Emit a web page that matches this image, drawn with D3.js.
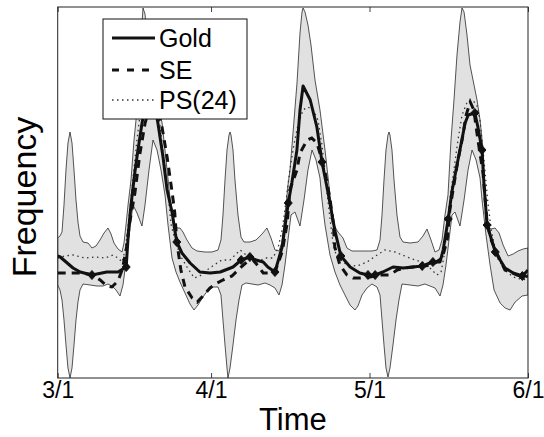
<!DOCTYPE html>
<html><head><meta charset="utf-8">
<script src="https://cdn.jsdelivr.net/npm/d3@7"></script>
<style>
html,body{margin:0;padding:0;background:#fff;}
svg{display:block;}
text{font-family:"Liberation Sans",Arial,Helvetica,sans-serif;fill:#000;}
</style></head><body>
<svg id="chart" width="544" height="437"></svg>
<script>
// ---- data (x = days since 3/1, y = frequency, arbitrary units) ----
const tickDays = [0, 30, 61, 92];
const tickLabels = ["3/1", "4/1", "5/1", "6/1"];
const legendLabels = ["Gold", "SE", "PS(24)"];

const goldData = [
  [0,122],[0.5,121],[3.0,110],[4.4,106],[6.7,103],[9.6,106],[11.8,106],[13.4,111],
  [13.8,143],[14.2,166],[14.5,180],[15.1,206],[15.7,228],[16.5,255],[17.3,278],[18.1,288],
  [18.8,278],[19.6,255],[20.6,221],[21.4,188],[22.4,165],[22.9,148],[23.3,136],[24.3,125],
  [25.9,115],[27.8,106],[29.8,105],[31.8,106],[34.3,111],[35.9,118],[37.0,120],[37.6,121],
  [38.8,118],[40.2,116],[41.1,111],[42.5,106],[43.9,131],[45.1,175],[45.8,195],[46.8,228],
  [47.4,268],[48.0,292],[49.4,278],[50.7,251],[51.7,216],[52.9,185],[54.2,148],[55.4,122],
  [57.2,111],[59.1,105],[60.7,103],[62.1,103],[63.6,106],[65.6,111],[67.6,110],[69.5,111],
  [71.3,112],[73.4,116],[74.8,116],[75.4,128],[76.4,159],[77.1,186],[78.3,218],[79.7,255],
  [80.3,263],[81.6,265],[82.2,251],[83.0,228],[83.4,193],[84.0,153],[85.6,126],[87.5,110],
  [89.1,105],[90.9,102],[92,108]
];
const goldMarkerDays = [6.7,13.4,23.3,35.9,37.6,42.5,45.1,51.7,55.4,60.7,62.1,71.3,73.4,76.4,81.6,83.0,84.0,85.6,90.9];

const seData = [
  [0,105],[1.4,105],[4.4,105],[6.9,103],[8.3,98],[9.6,92],[10.6,91],[11.8,97],[12.6,108],
  [13.4,128],[14.1,156],[15.1,185],[16.1,225],[17.1,255],[18.1,273],[18.8,278],[19.6,268],
  [20.4,251],[21.4,221],[22.4,185],[22.9,165],[23.3,136],[24.1,108],[24.9,91],[26.3,80],
  [27.3,76],[28.4,82],[29.8,90],[31.2,95],[32.3,98],[34.1,102],[35.7,110],[37.0,116],
  [38.2,118],[39.2,112],[40.2,105],[41.5,105],[42.5,106],[43.9,126],[44.9,155],[45.4,188],
  [46.8,208],[47.4,225],[48.8,238],[49.7,240],[50.7,235],[51.3,225],[52.3,206],[53.3,178],
  [53.9,155],[54.2,131],[55.2,113],[56.6,103],[57.8,100],[59.1,100],[61.1,101],[63.1,103],
  [65.0,103],[66.4,108],[67.9,110],[69.5,111],[71.5,112],[73.2,113],[75.2,120],[76.2,138],
  [76.7,168],[77.5,193],[78.3,218],[79.1,238],[79.9,263],[80.7,276],[81.4,268],[82.2,238],
  [83.2,205],[84.0,155],[84.8,138],[85.6,128],[87.5,108],[89.9,103],[91.0,101],[92,102]
];

const psData = [
  [0,120],[1.4,122],[3.0,123],[5.3,120],[7.3,121],[9.3,120],[10.8,123],[11.8,120],[12.6,116],
  [13.2,128],[13.8,153],[14.3,178],[14.9,208],[15.5,238],[16.1,263],[16.9,283],[17.7,293],
  [18.5,288],[19.2,273],[20.0,253],[20.8,218],[21.6,183],[22.2,153],[22.8,141],[23.9,123],
  [25.3,111],[26.7,100],[27.8,102],[29.2,108],[30.6,113],[32.1,118],[33.7,118],[35.7,128],
  [37.6,120],[39.0,116],[40.6,120],[42.1,120],[43.1,130],[43.9,148],[44.7,178],[45.4,208],
  [46.2,233],[47.0,253],[48.0,268],[48.9,271],[50.0,268],[50.9,258],[51.7,233],[52.5,193],
  [53.3,158],[53.9,133],[54.6,121],[56.6,113],[58.6,112],[60.5,116],[62.5,123],[64.0,128],
  [66.0,126],[67.9,122],[69.9,118],[71.9,115],[73.2,108],[74.2,103],[75.0,106],[75.6,123],
  [76.2,153],[76.7,178],[77.5,208],[78.3,238],[79.1,263],[80.1,276],[81.1,278],[82.0,273],
  [82.6,258],[83.4,218],[84.1,178],[84.8,148],[85.9,121],[87.5,108],[89.1,101],[90.5,99],[92,98]
];

const bandUpper = [
  [0,140],[0.45,142],[0.84,146],[1.23,173],[1.62,208],[2.01,235],[2.41,246],[2.80,235],[3.19,208],
  [3.58,178],[3.97,156],[4.36,142],[4.95,136],[5.93,135],[6.71,130],[7.49,132],[8.27,138],[9.06,145],
  [9.84,150],[10.43,144],[11.01,135],[11.80,129],[12.58,126],[12.97,135],[13.36,153],[13.76,173],
  [14.34,198],[14.93,238],[15.51,268],[15.90,298],[16.29,338],[16.69,370],[17.08,364],[17.66,333],
  [18.45,298],[19.43,273],[20.40,256],[21.19,218],[21.97,180],[22.75,156],[23.34,150],[23.92,150],
  [24.51,146],[25.29,138],[26.27,130],[27.25,127],[28.82,126],[30.18,126],[31.36,128],[31.94,138],
  [32.33,163],[32.73,198],[33.12,228],[33.51,243],[33.71,246],[33.90,243],[34.29,228],[34.68,198],
  [35.27,163],[35.86,141],[36.44,136],[37.62,136],[38.79,138],[39.97,144],[40.94,150],[41.73,140],
  [42.51,128],[43.29,127],[43.88,136],[44.46,163],[45.05,193],[45.44,208],[46.03,245],[46.81,295],
  [47.40,345],[47.79,366],[47.99,370],[48.38,366],[48.96,353],[49.55,333],[50.33,298],[51.31,268],
  [52.29,228],[53.27,183],[54.05,153],[54.83,146],[55.81,140],[56.59,130],[57.57,127],[59.53,127],
  [61.48,127],[62.46,128],[63.05,138],[63.44,163],[63.83,198],[64.22,228],[64.61,243],[64.81,246],
  [65.00,243],[65.39,228],[65.79,198],[66.37,163],[66.96,141],[67.55,136],[68.92,135],[70.48,136],
  [71.46,142],[72.24,149],[73.03,138],[73.81,126],[74.59,128],[75.18,138],[75.76,163],[76.35,183],
  [76.94,238],[77.52,278],[78.11,323],[78.70,356],[79.09,370],[79.49,366],[80.07,343],[80.66,313],
  [81.44,293],[82.03,278],[82.62,258],[83.21,228],[83.60,183],[83.99,153],[84.77,149],[85.56,150],
  [86.34,145],[87.13,133],[88.11,122],[89.09,124],[90.07,127],[91.05,129],[92,130]
];

const bandLower = [
  [0,93],[0.45,88],[0.84,78],[1.23,58],[1.62,33],[2.01,10],[2.41,0],[2.80,10],[3.19,33],[3.58,58],
  [3.97,76],[4.36,88],[4.95,94],[6.32,93],[7.69,92],[8.86,92],[9.84,94],[10.62,92],[11.40,88],
  [12.19,82],[12.77,93],[13.36,116],[13.95,143],[14.73,173],[15.51,165],[16.49,152],[17.08,173],
  [17.86,208],[18.64,238],[19.43,228],[20.21,208],[20.99,183],[21.58,153],[22.36,120],[23.14,106],
  [23.92,96],[24.90,85],[25.88,74],[26.66,68],[27.45,73],[28.42,81],[29.40,88],[30.38,91],[31.36,91],
  [31.94,83],[32.33,58],[32.73,33],[33.12,10],[33.31,0],[33.71,10],[34.29,33],[34.88,58],[35.47,78],
  [36.05,93],[36.84,95],[38.01,94],[39.18,93],[40.55,95],[41.53,93],[42.51,90],[43.29,83],[43.88,93],
  [44.46,113],[45.05,138],[45.64,163],[46.42,166],[47.40,152],[48.18,178],[48.96,208],[49.75,228],
  [50.53,218],[51.31,200],[51.70,178],[52.29,153],[53.27,123],[54.24,106],[55.22,93],[56.20,83],
  [57.18,73],[58.16,68],[58.74,72],[59.53,83],[60.51,90],[61.48,94],[62.46,91],[63.05,83],[63.44,58],
  [63.83,33],[64.22,10],[64.61,1],[65.00,10],[65.59,33],[66.18,58],[66.76,78],[67.35,94],[68.92,93],
  [70.48,92],[71.85,94],[72.83,92],[73.81,90],[74.79,82],[75.37,93],[75.96,113],[76.55,138],[77.13,163],
  [77.72,166],[78.70,152],[79.49,178],[80.27,208],[81.05,228],[81.84,218],[82.62,200],[83.01,178],
  [83.79,143],[84.58,113],[85.36,88],[86.54,75],[87.52,70],[88.50,68],[89.48,76],[90.85,82],[92,83]
];

// ---- drawing ----
const svg = d3.select("#chart");
const x = d3.scaleLinear().domain([0, 92]).range([57.7, 528]);
const y = d3.scaleLinear().domain([0, 371]).range([378, 7]);

svg.append("rect").attr("width", 544).attr("height", 437).attr("fill", "#fff");

svg.append("defs").append("clipPath").attr("id", "plotclip")
  .append("rect").attr("x", x(0)).attr("y", y(371)).attr("width", x(92) - x(0)).attr("height", y(0) - y(371));

const plot = svg.append("g").attr("clip-path", "url(#plotclip)");

const line = d3.line().x(d => x(d[0])).y(d => y(d[1]));

// band polygon: upper forward, lower reversed
const bandPts = bandUpper.concat(bandLower.slice().reverse());
plot.append("path")
  .attr("d", line(bandPts) + "Z")
  .attr("fill", "#e1e1e1")
  .attr("stroke", "#2a2a2a")
  .attr("stroke-width", 0.8)
  .attr("stroke-linejoin", "round");

plot.append("path").attr("d", line(psData))
  .attr("fill", "none").attr("stroke", "#333").attr("stroke-width", 1.3)
  .attr("stroke-dasharray", "1.5,3.5");

plot.append("path").attr("d", line(seData))
  .attr("fill", "none").attr("stroke", "#111").attr("stroke-width", 3)
  .attr("stroke-dasharray", "8,6");

plot.append("path").attr("d", line(goldData))
  .attr("fill", "none").attr("stroke", "#111").attr("stroke-width", 3)
  .attr("stroke-linejoin", "round");

const markerPts = goldMarkerDays.map(dd => goldData.find(p => Math.abs(p[0] - dd) < 1e-6)).filter(Boolean);
plot.selectAll("path.mk").data(markerPts).enter().append("path")
  .attr("class", "mk")
  .attr("d", "M0,-4.5L4,0L0,4.5L-4,0Z")
  .attr("transform", d => `translate(${x(d[0])},${y(d[1])})`)
  .attr("fill", "#111").attr("stroke", "#111").attr("stroke-width", 1);

// axes
const xAxis = d3.axisBottom(x).tickValues(tickDays)
  .tickFormat((d, i) => tickLabels[i]).tickSizeInner(-5).tickSizeOuter(0).tickPadding(4);
const gx = svg.append("g").attr("transform", `translate(0,${y(0)})`).call(xAxis);
gx.select(".domain").remove();
gx.selectAll("line").attr("stroke", "#444");
gx.selectAll("text").attr("font-size", 23).attr("font-family", '"Liberation Sans",Arial,sans-serif').attr("fill", "#000");

const xTop = d3.axisTop(x).tickValues(tickDays).tickFormat("").tickSizeInner(-5).tickSizeOuter(0);
const gt = svg.append("g").attr("transform", `translate(0,${y(371)})`).call(xTop);
gt.select(".domain").remove();
gt.selectAll("line").attr("stroke", "#444");

svg.append("rect")
  .attr("x", x(0)).attr("y", y(371)).attr("width", x(92) - x(0)).attr("height", y(0) - y(371))
  .attr("fill", "none").attr("stroke", "#222").attr("stroke-width", 1);

svg.append("text").attr("x", (x(0) + x(92)) / 2).attr("y", 430)
  .attr("text-anchor", "middle").attr("font-size", 31).text("Time");

svg.append("text").attr("transform", `translate(36,197) rotate(-90)`)
  .attr("text-anchor", "middle").attr("font-size", 34).text("Frequency");

// legend
const lg = svg.append("g");
lg.append("rect").attr("x", 103).attr("y", 19).attr("width", 144).attr("height", 100)
  .attr("fill", "#fff").attr("stroke", "#111").attr("stroke-width", 1);
const legendY = [38, 70, 100];
const legendStyles = [
  {w: 3, dash: null, c: "#111"},
  {w: 3, dash: "7,8", c: "#111"},
  {w: 1.3, dash: "1.5,3.5", c: "#333"}
];
legendLabels.forEach((lab, i) => {
  const s = legendStyles[i];
  const l = lg.append("line").attr("x1", 112).attr("x2", 155)
    .attr("y1", legendY[i]).attr("y2", legendY[i])
    .attr("stroke", s.c).attr("stroke-width", s.w);
  if (s.dash) l.attr("stroke-dasharray", s.dash);
  lg.append("text").attr("x", 159).attr("y", legendY[i] + 9)
    .attr("font-size", 25).text(lab);
});
</script>
</body></html>
